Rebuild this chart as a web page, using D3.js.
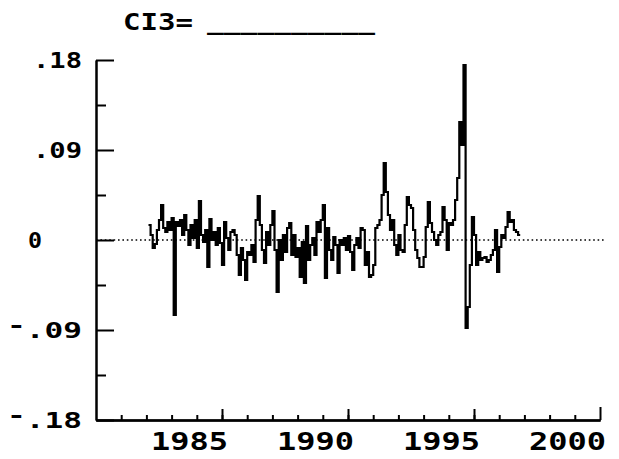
<!DOCTYPE html>
<html>
<head>
<meta charset="utf-8">
<script src="https://cdn.jsdelivr.net/npm/d3@7"></script>
<style>
  html, body { margin: 0; padding: 0; background: #fff; }
  svg { display: block; }
  text { font-family: "DejaVu Sans Mono", "Liberation Mono", monospace; font-weight: bold; fill: #000; }
</style>
</head>
<body>
<svg id="chart" width="619" height="459"></svg>
<script>
// Monthly series, first observation February 1982
const startYear = 1982;
const startMonth = 1; // zero-based month index (Feb)
const ci3 = [
  0.015, 0.005, -0.008, -0.004, 0.010, 0.020, 0.035, 0.012, 0.008, 0.018,
  0.010, 0.022, -0.075, 0.018, 0.014, 0.020, 0.005, 0.025, 0.010, -0.005,
  0.015, 0.002, 0.020, -0.008, 0.039, 0.005, -0.002, 0.010, -0.027, 0.021,
  0.000, 0.008, -0.005, 0.012, -0.003, -0.025, 0.018, 0.002, -0.010, 0.008,
  0.010, 0.005, -0.015, -0.035, -0.008, -0.020, -0.040, -0.012, -0.015, -0.005,
  -0.022, 0.020, 0.044, 0.015, -0.010, -0.023, 0.008, -0.005, 0.015, 0.029,
  -0.010, -0.052, 0.000, -0.020, 0.005, -0.012, 0.012, 0.017, -0.015, 0.005,
  -0.017, -0.008, -0.037, -0.002, -0.043, 0.014, -0.020, -0.005, 0.002, -0.015,
  0.018, 0.008, 0.020, 0.035, -0.038, 0.012, -0.010, -0.020, 0.003, -0.005,
  -0.033, 0.000, -0.005, 0.002, -0.010, 0.004, -0.012, -0.030, -0.005, 0.002,
  -0.008, 0.012, 0.010, -0.025, -0.012, -0.037, -0.035, -0.025, 0.012, 0.015,
  0.020, 0.045, 0.077, 0.048, 0.025, 0.010, 0.020, -0.005, -0.015, 0.005,
  -0.010, -0.012, 0.015, 0.043, 0.035, 0.032, 0.010, -0.010, -0.018, -0.027,
  -0.027, -0.017, 0.013, 0.038, 0.017, 0.008, 0.000, -0.005, 0.005, 0.008,
  0.033, 0.020, -0.010, 0.017, 0.015, 0.020, 0.040, 0.062, 0.118, 0.095,
  0.175, -0.088, -0.067, -0.025, 0.023, 0.005, -0.025, -0.012, -0.020, -0.018,
  -0.017, -0.022, -0.020, -0.015, -0.010, 0.010, -0.032, -0.007, 0.005, 0.002,
  0.013, 0.028, 0.018, 0.020, 0.010, 0.008, 0.005
];

const yMajorTicks = [-0.18, -0.09, 0, 0.09, 0.18];
const yMinorTicks = [-0.135, -0.045, 0.045, 0.135];
const yTickLabels = ["-.18", "-.09", "0", ".09", ".18"];
const xMajorTicks = [1985, 1990, 1995, 2000];
const xTickLabels = ["1985", "1990", "1995", "2000"];
const xMinorTicks = d3.range(1981, 2000);
const titleLabel = "CI3=";
const titleBlank = "__________";

const svg = d3.select("#chart");

const x = d3.scaleLinear().domain([1980, 2000]).range([96, 600]);
const y = d3.scaleLinear().domain([-0.18, 0.18]).range([420, 60]);

// Points placed at the start of each month; the last one is repeated one month on
const points = ci3.map((v, i) => ({ t: startYear + (startMonth + i) / 12, v }));
points.push({ t: points[points.length - 1].t + 1 / 12, v: ci3[ci3.length - 1] });

// Dotted zero reference line
svg.append("line")
  .attr("x1", x(1980)).attr("x2", x(2000) + 5)
  .attr("y1", y(0)).attr("y2", y(0))
  .attr("stroke", "#000").attr("stroke-width", 1.6)
  .attr("stroke-dasharray", "1.6,2.8");

// Step series
svg.append("path")
  .datum(points)
  .attr("fill", "none")
  .attr("stroke", "#000")
  .attr("stroke-width", 2.2)
  .attr("d", d3.line().x(d => x(d.t)).y(d => y(d.v)).curve(d3.curveStepAfter));

// Y axis: ticks point into the plot
const yAxisG = svg.append("g").attr("transform", `translate(${x(1980)},0)`);
yAxisG.call(d3.axisRight(y).tickValues(yMajorTicks).tickSize(18).tickSizeOuter(0).tickFormat(""));
yAxisG.call(g => g.append("g").call(d3.axisRight(y).tickValues(yMinorTicks).tickSize(10).tickSizeOuter(0).tickFormat("")));

// X axis: ticks point up into the plot
const xAxisG = svg.append("g").attr("transform", `translate(0,${y(-0.18)})`);
xAxisG.call(d3.axisTop(x).tickValues(xMinorTicks).tickSize(5).tickSizeOuter(0).tickFormat(""));
xAxisG.call(g => g.append("g").call(d3.axisTop(x).tickValues(xMajorTicks.slice(0, 3)).tickSize(11).tickSizeOuter(0).tickFormat("")));
xAxisG.call(g => g.append("g").call(d3.axisTop(x).tickValues([2000]).tickSize(13).tickSizeOuter(0).tickFormat("")));

svg.selectAll(".domain, .tick line")
  .attr("stroke", "#000").attr("stroke-width", 2);

// Y tick labels
yTickLabels.forEach((lab, i) => {
  const v = yMajorTicks[i];
  const t = svg.append("text")
    .attr("y", y(v) + 8)
    .attr("font-size", 22)
    .attr("lengthAdjust", "spacingAndGlyphs");
  if (lab === "0") {
    t.attr("x", 28).attr("textLength", 14).text(lab);
  } else if (lab.startsWith("-")) {
    t.attr("x", 7).attr("textLength", 75);
    t.append("tspan").attr("dy", -5).text("-");
    t.append("tspan").attr("dy", 5).text(lab.slice(1));
  } else {
    t.attr("x", 33).attr("textLength", 49).text(lab);
  }
});

// X tick labels
xTickLabels.forEach((lab, i) => {
  svg.append("text")
    .attr("x", x(xMajorTicks[i]) - 71)
    .attr("y", 450)
    .attr("font-size", 24)
    .attr("textLength", 77)
    .attr("lengthAdjust", "spacingAndGlyphs")
    .text(lab);
});

// Title with a blank to fill in
const title = svg.append("text").attr("y", 30).attr("font-size", 23);
title.append("tspan")
  .attr("x", 123)
  .attr("textLength", 70)
  .attr("lengthAdjust", "spacingAndGlyphs")
  .text(titleLabel);
title.append("tspan")
  .attr("x", 207)
  .attr("textLength", 168)
  .attr("lengthAdjust", "spacingAndGlyphs")
  .text(titleBlank);
</script>
</body>
</html>
